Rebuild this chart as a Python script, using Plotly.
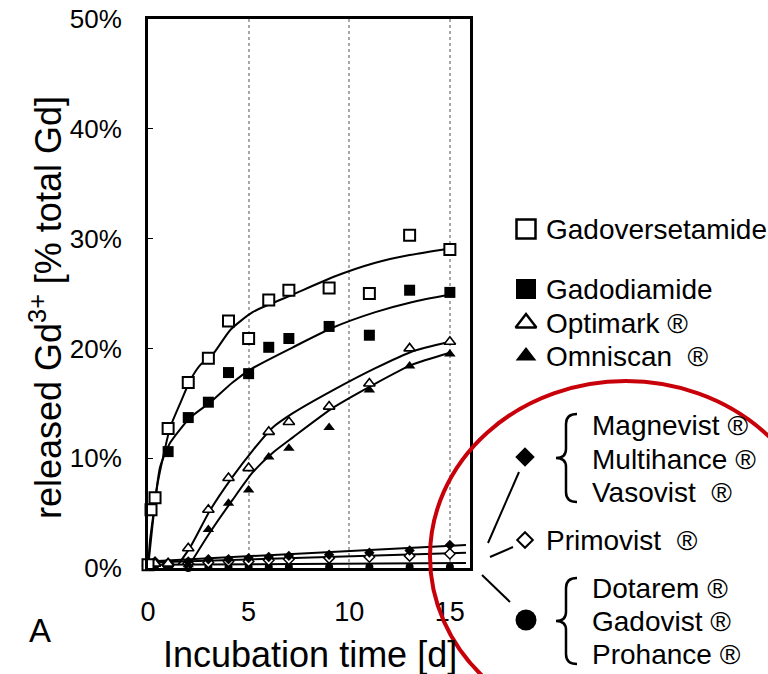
import plotly.graph_objects as go

W, H = 768, 674
# plot area in pixels (left, right, top, bottom)
PL, PR, PT, PB = 148, 470, 19, 568

FONT = "Liberation Sans, Arial, Helvetica, sans-serif"

# ---------------- data ----------------
t_gadoversetamide = [0, 0.15, 0.35, 1, 2, 3, 4, 5, 6, 7, 9, 11, 13, 15]
y_gadoversetamide = [0.3, 5.3, 6.4, 12.7, 16.9, 19.1, 22.5, 20.9, 24.4, 25.3, 25.5, 25.0, 30.3, 29.0]
fit_t_gadoversetamide = [0, 0.2, 0.45, 0.75, 1.1, 1.6, 2.1, 2.6, 3.2, 4.1, 5.2, 7.2, 9.2, 11.3, 13, 15]
fit_y_gadoversetamide = [0, 3.5, 7.4, 10.1, 12.8, 15.0, 17.1, 18.5, 19.4, 21.7, 23.3, 24.9, 26.5, 27.8, 28.5, 29.1]

t_gadodiamide = [0, 1, 2, 3, 4, 5, 6, 7, 9, 11, 13, 15]
y_gadodiamide = [0.3, 10.6, 13.7, 15.1, 17.8, 17.7, 20.1, 20.9, 22.0, 21.2, 25.3, 25.1]
fit_t_gadodiamide = [0, 0.1, 0.3, 0.6, 1.1, 2.1, 3.1, 4.2, 5.2, 7.2, 9.2, 11.3, 13.1, 15]
fit_y_gadodiamide = [0, 2.5, 5.3, 9.2, 11.4, 13.7, 15.1, 16.9, 18.2, 20.1, 21.9, 23.3, 24.2, 24.9]

t_optimark = [0, 0.35, 1, 2, 3, 4, 5, 6, 7, 9, 11, 13, 15]
y_optimark = [0.4, 0.4, 0.4, 1.8, 5.3, 8.2, 9.1, 12.4, 13.3, 14.7, 16.8, 20.0, 20.6]
fit_t_optimark = [1.5, 2.1, 3.1, 4.2, 5.2, 6.2, 7.2, 9.2, 11.3, 13.1, 15]
fit_y_optimark = [0.3, 1.9, 5.3, 8.3, 10.7, 12.8, 14.1, 16.2, 18.2, 19.7, 20.6]

t_omniscan = [0, 1, 2, 3, 4, 5, 6, 7, 9, 11, 13, 15]
y_omniscan = [0.2, 0.2, 0.3, 3.5, 5.9, 7.1, 10.1, 10.9, 12.8, 16.2, 18.4, 19.5]
fit_t_omniscan = [2.0, 3.1, 4.2, 5.2, 6.2, 7.2, 9.2, 11.3, 13.1, 15]
fit_y_omniscan = [0.1, 3.3, 6.2, 8.7, 10.5, 11.9, 14.6, 16.8, 18.5, 19.6]

t_low = [0, 0.35, 1, 2, 3, 4, 5, 6, 7, 9, 11, 13, 15]
y_magnevist_group = [0.5, 0.6, 0.3, 0.6, 0.8, 0.8, 0.9, 1.0, 1.1, 1.2, 1.4, 1.6, 2.1]
y_primovist = [0.4, 0.5, 0.4, 0.4, 0.5, 0.6, 0.6, 0.7, 0.8, 0.9, 1.0, 1.1, 1.3]
y_dotarem_group = [0.2, 0.2, 0.1, 0.0, 0.1, 0.1, 0.1, 0.1, 0.1, 0.1, 0.1, 0.1, 0.1]
fit_t_low = [0, 15.8]
fit_y_magnevist_group = [0.6, 2.1]
fit_y_primovist = [0.5, 1.4]
fit_y_dotarem_group = [0.3, 0.45]

x_ticks = [0, 5, 10, 15]
y_ticks = [0, 10, 20, 30, 40, 50]

legend_main = ["Gadoversetamide", "Gadodiamide", "Optimark \u00ae", "Omniscan  \u00ae"]
legend_group1 = ["Magnevist \u00ae", "Multihance \u00ae", "Vasovist  \u00ae"]
legend_single = "Primovist  \u00ae"
legend_group2 = ["Dotarem \u00ae", "Gadovist \u00ae", "Prohance \u00ae"]

# ---------------- figure ----------------
fig = go.Figure()

def fit_line(x, y):
    fig.add_trace(go.Scatter(x=x, y=y, mode="lines", line=dict(color="black", width=2, shape="spline", smoothing=0.6),
                             hoverinfo="skip", showlegend=False, xaxis="x", yaxis="y"))

def pts(x, y, symbol, size, fill, lw):
    fig.add_trace(go.Scatter(x=x, y=y, mode="markers",
                             marker=dict(symbol=symbol, size=size, color=fill, line=dict(color="black", width=lw)),
                             showlegend=False, xaxis="x", yaxis="y", cliponaxis=False))

fit_line(fit_t_low, fit_y_dotarem_group)
fit_line(fit_t_low, fit_y_primovist)
fit_line(fit_t_low, fit_y_magnevist_group)
fit_line(fit_t_omniscan, fit_y_omniscan)
fit_line(fit_t_optimark, fit_y_optimark)
fit_line(fit_t_gadodiamide, fit_y_gadodiamide)
fit_line(fit_t_gadoversetamide, fit_y_gadoversetamide)

pts(t_low, y_dotarem_group, "circle", 8, "black", 0)
pts(t_low, y_primovist, "diamond", 8, "white", 1.5)
pts(t_low, y_magnevist_group, "diamond", 8, "black", 0)
pts(t_omniscan, y_omniscan, "triangle-up", 10, "black", 0)
pts(t_optimark, y_optimark, "triangle-up", 10, "white", 1.6)
pts(t_gadodiamide, y_gadodiamide, "square", 11, "black", 0)
pts(t_gadoversetamide, y_gadoversetamide, "square", 11, "white", 2)

# ---------------- overlay (pixel) layer for the legend ----------------
leg_marks = [
    (526, 229, "square", 19, "white", 2.5),
    (526, 289, "square", 20, "black", 0),
    (526, 323, "triangle-up", 18, "white", 2.5),
    (526, 356, "triangle-up", 18, "black", 0),
    (525, 457, "diamond", 15, "black", 0),
    (525, 540, "diamond", 12, "white", 2),
    (526, 620, "circle", 21, "black", 0),
]
for (mx, my, sym, sz, fc, lw) in leg_marks:
    fig.add_trace(go.Scatter(x=[mx], y=[my], mode="markers", xaxis="x2", yaxis="y2",
                             marker=dict(symbol=sym, size=sz, color=fc, line=dict(color="black", width=lw)),
                             showlegend=False, hoverinfo="skip"))

connectors = [((519, 472), (488, 543)), ((513, 547), (490, 557)), ((482, 575), (510, 602))]
for (a, b) in connectors:
    fig.add_trace(go.Scatter(x=[a[0], b[0]], y=[a[1], b[1]], mode="lines", xaxis="x2", yaxis="y2",
                             line=dict(color="black", width=2), showlegend=False, hoverinfo="skip"))

def brace(xr, yt, yb):
    xm = xr - 11
    xt = xr - 21
    ym = (yt + yb) / 2
    return (f"M {xr} {yt} Q {xm} {yt} {xm} {yt+10} L {xm} {ym-9} Q {xm} {ym} {xt} {ym} "
            f"Q {xm} {ym} {xm} {ym+9} L {xm} {yb-10} Q {xm} {yb} {xr} {yb}")

shapes = [
    dict(type="path", path=brace(577, 414, 502), xref="x2", yref="y2", line=dict(color="black", width=2.5)),
    dict(type="path", path=brace(577, 578, 664), xref="x2", yref="y2", line=dict(color="black", width=2.5)),
    dict(type="circle", xref="x2", yref="y2", x0=430, x1=822, y0=381, y1=732,
         line=dict(color="#c8000a", width=4), layer="above"),
]

annotations = []
def txt(x, y, s, size, xanchor="left", angle=0):
    annotations.append(dict(x=x, y=y, xref="x2", yref="y2", text=s, showarrow=False, xanchor=xanchor,
                            yanchor="middle", textangle=angle, font=dict(family=FONT, size=size, color="black")))

LF = 28
txt(544, 229, legend_main[0], LF)
txt(544, 289, legend_main[1], LF)
txt(544, 323, legend_main[2], LF)
txt(544, 356, legend_main[3], LF)
for i, s in enumerate(legend_group1):
    txt(590, [425, 459, 492][i], s, LF)
txt(544, 540, legend_single, LF)
for i, s in enumerate(legend_group2):
    txt(590, [588, 621, 654][i], s, LF)

txt(310, 654, "Incubation time [d]", 36, xanchor="center")
txt(46, 308, "released Gd<sup>3+</sup> [% total Gd]", 36, xanchor="center", angle=-90)
txt(40, 630, "A", 33, xanchor="center")

fig.update_layout(
    template="none",
    width=W, height=H,
    margin=dict(l=0, r=0, t=0, b=0, pad=0, autoexpand=False),
    paper_bgcolor="white", plot_bgcolor="rgba(0,0,0,0)",
    font=dict(family=FONT, color="black"),
    xaxis=dict(domain=[PL / W, PR / W], range=[0, 16], anchor="y", automargin=False,
               tickvals=x_ticks, ticktext=[str(v) for v in x_ticks],
               showgrid=True, gridcolor="#a8a8a8", griddash="dot", gridwidth=1.5,
               showline=True, linecolor="black", linewidth=3, mirror=True,
               ticks="", zeroline=False, tickfont=dict(size=27, family=FONT),
               ticklabelstandoff=18),
    yaxis=dict(domain=[(H - PB) / H, (H - PT) / H], range=[0, 50], anchor="x", automargin=False,
               tickvals=y_ticks, ticktext=[f"{v}%" for v in y_ticks],
               showgrid=False, showline=True, linecolor="black", linewidth=3, mirror=True,
               ticks="inside", ticklen=5, tickwidth=1, tickcolor="black",
               zeroline=False, tickfont=dict(size=26, family=FONT), ticklabelstandoff=18),
    xaxis2=dict(domain=[0, 1], range=[0, W], anchor="y2", visible=False, fixedrange=True, automargin=False),
    yaxis2=dict(domain=[0, 1], range=[H, 0], anchor="x2", visible=False, fixedrange=True, automargin=False),
    shapes=shapes,
    annotations=annotations,
    showlegend=False,
)

fig.write_html("out.html")
